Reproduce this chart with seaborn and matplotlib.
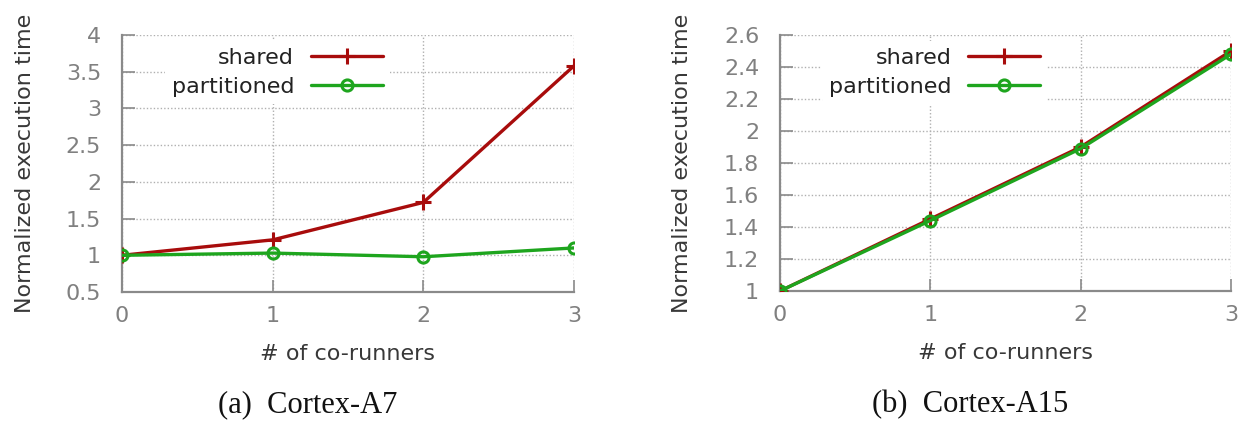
import matplotlib
matplotlib.use("Agg")
import matplotlib.pyplot as plt
import seaborn as sns
import pandas as pd

# Normalized execution time vs number of co-runners
co_runners = [0, 1, 2, 3]
a7_shared = [1.0, 1.21, 1.72, 3.58]
a7_partitioned = [1.0, 1.03, 0.98, 1.10]
a15_shared = [1.0, 1.45, 1.90, 2.50]
a15_partitioned = [1.0, 1.44, 1.89, 2.48]

series_labels = ["shared", "partitioned"]
captions = ["(a)  Cortex-A7", "(b)  Cortex-A15"]
x_label = "# of co-runners"
y_label = "Normalized execution time"

a7_yticks = [0.5, 1, 1.5, 2, 2.5, 3, 3.5, 4]
a15_yticks = [1, 1.2, 1.4, 1.6, 1.8, 2, 2.2, 2.4, 2.6]

RED = "#a80c0c"
GREEN = "#1ea51e"
TICK_GRAY = "#808080"
LABEL_GRAY = "#383838"

sns.set_theme(style="white")
plt.rcParams["font.family"] = ["DejaVu Sans"]

fig = plt.figure(figsize=(12.44, 4.30), dpi=100)
W, H = 1244, 430


def add_panel(left_px, right_px, top_px, bottom_px):
    return fig.add_axes([left_px / W, 1 - bottom_px / H,
                         (right_px - left_px) / W, (bottom_px - top_px) / H])


def draw(ax, shared, partitioned, yticks, caption, cap_x, ylabelpad):
    df = pd.DataFrame({"x": co_runners, "shared": shared, "partitioned": partitioned})
    sns.lineplot(data=df, x="x", y="shared", ax=ax, color=RED, lw=2.4,
                 marker="+", markersize=12, markeredgewidth=2.2,
                 markeredgecolor=RED, label=series_labels[0], zorder=3)
    sns.lineplot(data=df, x="x", y="partitioned", ax=ax, color=GREEN, lw=2.4,
                 marker="o", markersize=8, markeredgewidth=2.2,
                 markerfacecolor="none", markeredgecolor=GREEN,
                 label=series_labels[1], zorder=4)
    ax.set_xlim(co_runners[0], co_runners[-1])
    ax.set_ylim(yticks[0], yticks[-1])
    ax.set_xticks(co_runners)
    ax.set_yticks(yticks)
    ax.set_yticklabels([f"{t:g}" for t in yticks])
    ax.grid(True, color="#b0b0b0", linestyle=(0, (1, 1.5)), linewidth=1.0)
    for side in ("top", "right"):
        ax.spines[side].set_visible(False)
    for side in ("left", "bottom"):
        ax.spines[side].set_color("#8a8a8a")
        ax.spines[side].set_linewidth(1.6)
    ax.tick_params(axis="both", direction="in", length=9, width=1.2,
                   color="#8a8a8a", labelsize=16, labelcolor=TICK_GRAY,
                   left=True, bottom=True)
    ax.tick_params(axis="y", pad=15)
    ax.tick_params(axis="x", pad=10)
    ax.set_xlabel(x_label, fontsize=16, color=LABEL_GRAY, labelpad=13)
    ax.set_ylabel(y_label, fontsize=16, color=LABEL_GRAY, labelpad=ylabelpad)
    leg = ax.legend(loc="upper right", bbox_to_anchor=(0.592, 0.975),
                    markerfirst=False, frameon=True, fontsize=16,
                    handlelength=3.25, handletextpad=0.75, labelspacing=0.4,
                    borderpad=0.3, borderaxespad=0.0)
    leg.get_frame().set_facecolor("white")
    leg.get_frame().set_edgecolor("none")
    leg.get_frame().set_alpha(1)
    for t in leg.get_texts():
        t.set_color("#222222")
    fig.text(cap_x / W, 1 - 405 / H, caption, ha="center", va="center",
             fontsize=22, family="Liberation Serif", color="#111111")


ax1 = add_panel(122, 574, 35, 292)
draw(ax1, a7_shared, a7_partitioned, a7_yticks, captions[0], 308, 22)

ax2 = add_panel(780, 1231, 35, 291)
draw(ax2, a15_shared, a15_partitioned, a15_yticks, captions[1], 970, 23)

fig.savefig("out.png", dpi=100)
